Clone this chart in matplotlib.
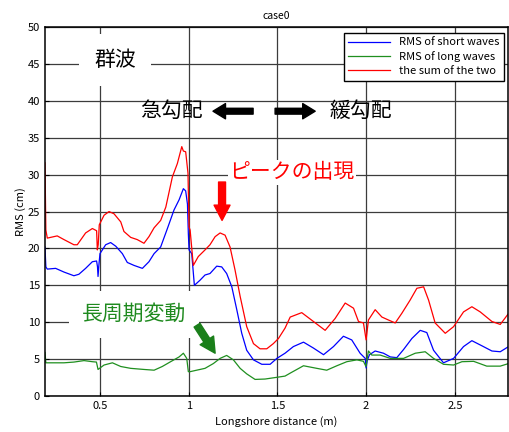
import matplotlib.pyplot as plt

plt.rcParams['font.family'] = ['Noto Sans CJK JP', 'DejaVu Sans']

# x positions (m) and RMS values (cm)
x_short = [0.19, 0.195, 0.203, 0.25, 0.297, 0.353, 0.381, 0.419, 0.457, 0.481, 0.486,
           0.489, 0.494, 0.5, 0.532, 0.56, 0.589, 0.626, 0.654, 0.692, 0.739, 0.776,
           0.805, 0.842, 0.88, 0.917, 0.946, 0.97, 0.983, 0.993, 0.998, 1.002, 1.017,
           1.032, 1.064, 1.092, 1.12, 1.158, 1.186, 1.214, 1.243, 1.271, 1.299, 1.327,
           1.365, 1.412, 1.459, 1.497, 1.543, 1.59, 1.647, 1.703, 1.76, 1.816, 1.872,
           1.919, 1.966, 1.995, 2.0, 2.006, 2.019, 2.051, 2.098, 2.136, 2.173, 2.211,
           2.258, 2.305, 2.342, 2.38, 2.436, 2.493, 2.549, 2.596, 2.653, 2.709, 2.756,
           2.803]
rms_short = [20.2, 17.5, 17.2, 17.3, 16.8, 16.3, 16.5, 17.3, 18.2, 18.3, 17.5,
             16.2, 17.8, 19.3, 20.5, 20.8, 20.3, 19.3, 18.1, 17.7, 17.3, 18.2,
             19.3, 20.2, 22.7, 25.2, 26.6, 28.1, 27.8, 26.0, 22.0, 19.8, 19.3,
             15.0, 15.7, 16.4, 16.6, 17.6, 17.5, 16.6, 14.8, 11.7, 8.5, 6.2,
             4.9, 4.3, 4.3, 5.1, 5.8, 6.7, 7.3, 6.5, 5.6, 6.7, 8.1,
             7.6, 5.8, 5.1, 3.8, 4.8, 5.6, 6.1, 5.8, 5.3, 5.2, 6.3,
             7.8, 8.9, 8.6, 6.2, 4.5, 5.1, 6.7, 7.5, 6.8, 6.1, 6.0,
             6.7]

x_long = [0.19, 0.195, 0.24, 0.297, 0.353, 0.41, 0.457, 0.48, 0.489, 0.523, 0.57,
          0.617, 0.673, 0.748, 0.805, 0.851, 0.898, 0.946, 0.97, 0.989, 0.998, 1.008,
          1.045, 1.092, 1.139, 1.177, 1.214, 1.252, 1.29, 1.327, 1.374, 1.43, 1.487,
          1.543, 1.572, 1.647, 1.722, 1.778, 1.835, 1.891, 1.948, 1.985, 1.999, 2.013,
          2.032, 2.079, 2.136, 2.211, 2.277, 2.333, 2.38, 2.436, 2.493, 2.54, 2.606,
          2.68, 2.756, 2.803]
rms_long = [5.9, 4.5, 4.5, 4.5, 4.6, 4.8, 4.65, 4.6, 3.6, 4.2, 4.5,
            4.0, 3.75, 3.6, 3.5, 4.0, 4.65, 5.3, 5.8, 5.1, 3.3, 3.3,
            3.5, 3.75, 4.4, 5.1, 5.5, 4.9, 3.75, 3.0, 2.25, 2.3, 2.5,
            2.7, 3.1, 4.1, 3.75, 3.5, 4.1, 4.65, 4.9, 4.7, 4.0, 6.1,
            5.55, 5.55, 5.1, 5.1, 5.8, 6.0, 5.1, 4.3, 4.2, 4.65, 4.7,
            4.05, 4.05, 4.4]

x_sum = [0.19, 0.195, 0.203, 0.259, 0.297, 0.353, 0.372, 0.419, 0.457, 0.481, 0.485,
         0.49, 0.496, 0.523, 0.551, 0.579, 0.617, 0.635, 0.673, 0.71, 0.748, 0.776,
         0.805, 0.842, 0.871, 0.908, 0.936, 0.961, 0.97, 0.983, 0.996, 1.002, 1.008,
         1.026, 1.054, 1.092, 1.12, 1.149, 1.177, 1.205, 1.233, 1.261, 1.29, 1.327,
         1.365, 1.402, 1.44, 1.477, 1.506, 1.543, 1.572, 1.637, 1.703, 1.769, 1.825,
         1.882, 1.929, 1.957, 1.985, 2.0, 2.013, 2.051, 2.089, 2.126, 2.164, 2.201,
         2.248, 2.286, 2.324, 2.352, 2.389, 2.446, 2.493, 2.549, 2.596, 2.643, 2.709,
         2.756, 2.803]
rms_sum = [31.6, 22.5, 21.4, 21.7, 21.2, 20.5, 20.5, 22.1, 22.7, 22.4, 19.8,
           20.5, 23.2, 24.5, 25.0, 24.7, 23.6, 22.3, 21.5, 21.2, 20.7, 21.6,
           22.8, 23.8, 25.6, 29.7, 31.5, 33.8, 33.2, 33.1, 30.2, 22.9, 22.5,
           17.7, 18.9, 19.8, 20.5, 21.6, 22.1, 21.8, 20.2, 17.1, 13.5, 9.4,
           7.1, 6.4, 6.4, 7.1, 7.8, 9.2, 10.7, 11.3, 10.1, 8.9, 10.5,
           12.6, 11.9, 10.1, 9.9, 7.6, 10.3, 11.7, 10.7, 10.3, 9.9, 11.2,
           13.0, 14.6, 14.8, 13.0, 9.9, 8.5, 9.4, 11.4, 12.1, 11.4, 10.1,
           9.7, 11.2]

series_labels = ["RMS of short waves", "RMS of long waves", "the sum of the two"]
x_ticks = [0.5, 1, 1.5, 2, 2.5]
x_tick_labels = ["0.5", "1", "1.5", "2", "2.5"]
y_ticks = list(range(0, 51, 5))


def draw_chart():
    fig = plt.figure(figsize=(5.1, 4.32), dpi=100)
    ax = fig.add_axes([0.0882, 0.0833, 0.908, 0.854])

    ax.plot(x_short, rms_short, color="#0000ff", lw=0.9, label=series_labels[0])
    ax.plot(x_long, rms_long, color="#1f8f1f", lw=0.9, label=series_labels[1])
    ax.plot(x_sum, rms_sum, color="#ff0000", lw=0.9, label=series_labels[2])

    ax.set_xlim(0.19, 2.8)
    ax.set_ylim(0, 50)
    ax.set_xticks(x_ticks)
    ax.set_xticklabels(x_tick_labels)
    ax.set_yticks(y_ticks)
    ax.tick_params(direction="in", length=3, labelsize=8, colors="black")
    ax.grid(True, color="#3c3c3c", lw=0.9)
    ax.set_axisbelow(True)
    for spine in ax.spines.values():
        spine.set_linewidth(1.1)

    ax.set_title("case0", fontsize=7.5, pad=6)
    ax.set_xlabel("Longshore distance (m)", fontsize=8, labelpad=4)
    ax.set_ylabel("RMS (cm)", fontsize=8, labelpad=1)

    leg = ax.legend(loc="upper right", bbox_to_anchor=(0.991, 0.984),
                    borderaxespad=0, fontsize=8, handlelength=3.8,
                    labelspacing=0.35, fancybox=False, framealpha=1,
                    edgecolor="black", borderpad=0.4)
    leg.get_frame().set_linewidth(1.0)

    # overlay annotations
    ax.text(0.585, 45.5, "群波", fontsize=15, ha="center", va="center",
            bbox=dict(facecolor="white", edgecolor="none", pad=11), zorder=5)
    ax.text(0.90, 38.6, "急勾配", fontsize=15, ha="center", va="center", zorder=5)
    ax.text(1.972, 38.6, "緩勾配", fontsize=15, ha="center", va="center", zorder=5)
    ax.text(1.583, 30.35, "ピークの出現", fontsize=15, color="#ff0000",
            ha="center", va="center",
            bbox=dict(facecolor="white", edgecolor="none", pad=1), zorder=5)
    ax.text(0.692, 11.1, "長周期変動", fontsize=15, color="#1f8a1f",
            ha="center", va="center",
            bbox=dict(facecolor="white", edgecolor="none", pad=9), zorder=5)

    arrow_black = dict(arrowstyle="simple,head_width=1.1,head_length=0.9,tail_width=0.42",
                       color="black", shrinkA=0, shrinkB=0, mutation_scale=10)
    ax.annotate("", xy=(1.137, 38.6), xytext=(1.363, 38.6), arrowprops=arrow_black, zorder=6)
    ax.annotate("", xy=(1.713, 38.6), xytext=(1.487, 38.6), arrowprops=arrow_black, zorder=6)

    arrow_red = dict(arrowstyle="simple,head_width=1.15,head_length=1.1,tail_width=0.5",
                     color="#ff0000", shrinkA=0, shrinkB=0, mutation_scale=10)
    ax.annotate("", xy=(1.188, 23.8), xytext=(1.188, 29.0), arrowprops=arrow_red, zorder=6)

    arrow_green = dict(arrowstyle="simple,head_width=1.15,head_length=1.1,tail_width=0.5",
                       color="#1a7f1a", shrinkA=0, shrinkB=0, mutation_scale=10)
    ax.annotate("", xy=(1.149, 5.8), xytext=(1.047, 9.6), arrowprops=arrow_green, zorder=6)

    fig.savefig("out.png", dpi=100)


if __name__ == "__main__":
    draw_chart()
